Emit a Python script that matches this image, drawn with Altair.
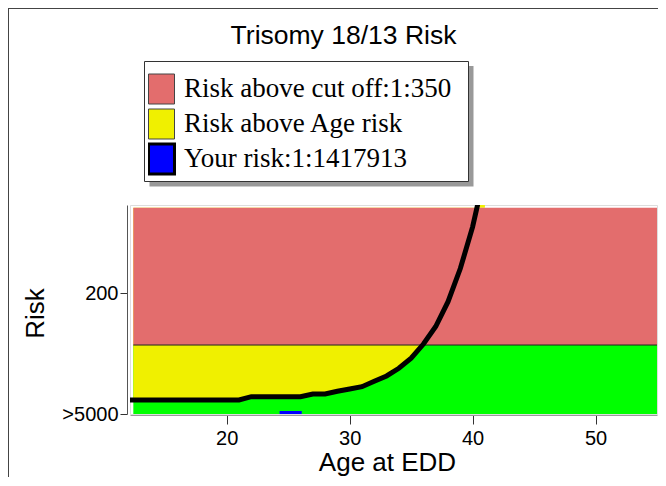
import altair as alt
import pandas as pd

# ---- data ----
AGES = [12, 13, 14, 15, 16, 17, 18, 19, 20, 21,
        22, 23, 24, 25, 26, 27, 28, 29, 30, 31,
        32, 33, 34, 35, 36, 37, 38, 39, 40, 41]
RISK_DENOM = [1724, 1724, 1724, 1724, 1724, 1724, 1724, 1724, 1724, 1724,
              1395, 1395, 1395, 1395, 1395, 1207, 1207, 1063, 965, 884,
              738, 635, 528, 433, 345, 276, 215, 166, 129, 100]

CUTOFF_DENOM = 350
BAND_TOP_DENOM = 117
Y_MAX_DENOM = 115.5
BAND_START_AGE = 12.4
BAND_END_AGE = 55
X_DOMAIN = [12.13, 55]

PATIENT_DENOM = 1417913
PATIENT_AGE_FROM = 24.3
PATIENT_AGE_TO = 26.1

X_TICKS = [20, 30, 40, 50]
Y_TICK_VALUES = [0.0, 1 / 200]
Y_TICK_LABELS = [">5000", "200"]

LEGEND_LABELS = ["Risk above cut off:1:350", "Risk above Age risk", "Your risk:1:1417913"]
LEGEND_COLORS = ["#E36D6D", "#F0F000", "#0000FF"]
GREEN = "#00FF00"

TITLE = "Trisomy 18/13 Risk"
X_TITLE = "Age at EDD"
Y_TITLE = "Risk"

# ---- tables ----
curve = pd.DataFrame({"age": AGES, "risk": [1 / d for d in RISK_DENOM]})
curve["cat"] = LEGEND_LABELS[1]
bands = pd.DataFrame({
    "x0": [BAND_START_AGE], "x1": [BAND_END_AGE],
    "zero": [0.0], "cut": [1 / CUTOFF_DENOM], "top": [1 / BAND_TOP_DENOM],
    "cat": [LEGEND_LABELS[0]],
})
patient = pd.DataFrame({"a0": [PATIENT_AGE_FROM], "a1": [PATIENT_AGE_TO],
                        "risk": [1 / PATIENT_DENOM], "cat": [LEGEND_LABELS[2]]})

SANS = "Liberation Sans"
SERIF = "Liberation Serif"

xs = alt.Scale(domain=X_DOMAIN, nice=False, zero=False)
ys = alt.Scale(domain=[0, 1 / Y_MAX_DENOM], nice=False, zero=False)
cs = alt.Scale(domain=LEGEND_LABELS, range=LEGEND_COLORS)

label_expr = " : ".join(
    f"abs(datum.value - {v}) < 1e-9 ? '{t}'" for v, t in zip(Y_TICK_VALUES, Y_TICK_LABELS)
) + " : ''"

x_axis = alt.Axis(values=X_TICKS, grid=False, offset=1, tickSize=9, labelPadding=4,
                  labelFont=SANS, labelFontSize=20, labelColor="black",
                  domainColor="#999", tickColor="#333",
                  title=X_TITLE, titleFont=SANS, titleFontSize=26, titleFontWeight="normal",
                  titleColor="black", titleX=257, titleY=55, titleBaseline="alphabetic")
y_axis = alt.Axis(values=Y_TICK_VALUES, labelExpr=label_expr, grid=False, offset=3,
                  tickSize=7, labelPadding=2, labelFont=SANS, labelFontSize=20,
                  labelColor="black", domainColor="#555", tickColor="#333",
                  title=Y_TITLE, titleFont=SANS, titleFontSize=26, titleFontWeight="normal",
                  titleColor="black", titleAngle=270, titleX=-84, titleY=108,
                  titleBaseline="alphabetic", titleAlign="center")

SYMBOL = "M-0.8667,-1H0.8667V1H-0.8667Z"
legend = alt.Legend(orient="none", legendX=18, legendY=-133.5, title=None, padding=0,
                    fillColor="transparent", strokeColor="transparent", symbolType=SYMBOL,
                    symbolSize=900, rowPadding=0, clipHeight=35,
                    labelFont=SERIF, labelFontSize=27,
                    labelColor="black", labelOffset=9, labelLimit=400,
                    symbolStrokeColor=alt.ExprRef("datum.index == 2 ? 'black' : '#444'"),
                    symbolStrokeWidth=alt.ExprRef("datum.index == 2 ? 3 : 1"),
                    symbolOpacity=1)

color = alt.Color("cat:N", scale=cs, legend=legend)

green = alt.Chart(bands).mark_rect(color=GREEN).encode(
    x=alt.X("x0:Q", scale=xs, axis=x_axis), x2="x1:Q",
    y=alt.Y("zero:Q", scale=ys, axis=y_axis), y2="cut:Q")

yellow = alt.Chart(curve).transform_calculate(
    a=f"max(datum.age, {BAND_START_AGE})"
).mark_area(clip=True, opacity=1).encode(
    x=alt.X("a:Q", scale=xs), y=alt.Y("risk:Q", scale=ys),
    y2=alt.datum(1 / BAND_TOP_DENOM),
    color=color)

red = alt.Chart(bands).mark_rect().encode(
    x=alt.X("x0:Q", scale=xs), x2="x1:Q",
    y=alt.Y("cut:Q", scale=ys), y2="top:Q",
    color=color)

cut_rule = alt.Chart(bands).mark_rule(color="#222", strokeWidth=1).encode(
    x=alt.X("x0:Q", scale=xs), x2="x1:Q", y=alt.Y("cut:Q", scale=ys))

line = alt.Chart(curve).mark_line(color="black", strokeWidth=5, clip=True).encode(
    x=alt.X("age:Q", scale=xs), y=alt.Y("risk:Q", scale=ys))

blue = alt.Chart(patient).mark_rect(height=3, yOffset=-1.5).encode(
    x=alt.X("a0:Q", scale=xs), x2="a1:Q", y=alt.Y("risk:Q", scale=ys),
    color=color)

# decorations: page frame, legend box and its drop shadow
deco = pd.DataFrame({"k": [0]})
shadow = alt.Chart(deco).mark_rect(color="#999").encode(
    x=alt.value(19.5), x2=alt.value(343.5), y=alt.value(-139), y2=alt.value(-18.5))
legend_box = alt.Chart(deco).mark_rect(fill="white", stroke="#333", strokeWidth=1).encode(
    x=alt.value(14.5), x2=alt.value(338.5), y=alt.value(-143.5), y2=alt.value(-23.5))
frame_top = alt.Chart(deco).mark_rule(color="#444", strokeWidth=1).encode(
    x=alt.value(-122), x2=alt.value(530), y=alt.value(-196.5))
frame_left = alt.Chart(deco).mark_rule(color="#444", strokeWidth=1).encode(
    x=alt.value(-121.5), y=alt.value(-197), y2=alt.value(275))

chart = alt.layer(
    frame_top, frame_left, shadow, legend_box, green, yellow, red, cut_rule, line, blue
).properties(
    width=527, height=209,
    title=alt.TitleParams(TITLE, font=SANS, fontSize=26.5, fontWeight="normal",
                          color="black", anchor="middle", dx=-50, offset=18, dy=81,
                          baseline="alphabetic"),
    autosize=alt.AutoSizeParams(type="none"),
    padding={"left": 122, "top": 197, "right": 1, "bottom": 63},
).configure_view(
    stroke="black", strokeWidth=1
).configure(background="white")

chart.save("out.html", embed_options={"renderer": "svg", "actions": False})
